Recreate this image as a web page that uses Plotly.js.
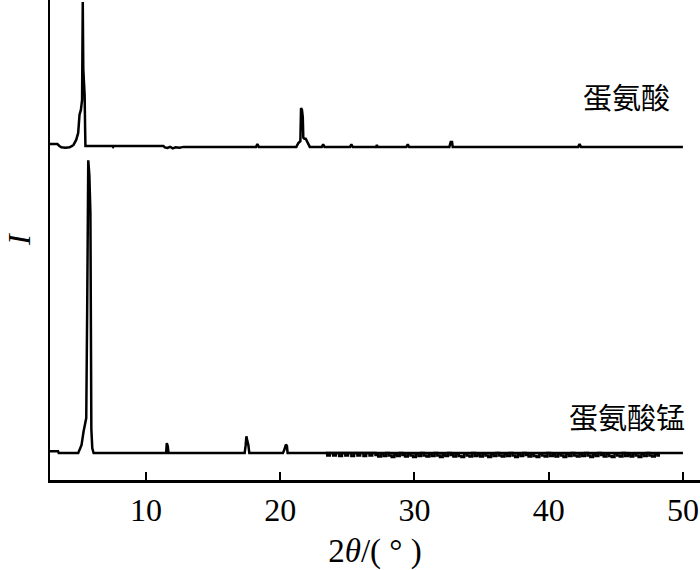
<!DOCTYPE html>
<html>
<head>
<meta charset="utf-8">
<script src="https://cdn.plot.ly/plotly-3.0.1.min.js"></script>
<style>
  html, body { margin: 0; padding: 0; background: #fff; }
  #graph { width: 700px; height: 570px; }
</style>
</head>
<body>
<div id="graph"></div>
<script>
// XRD patterns: methionine (top, offset) and manganese methionine (bottom)
var labelMet = '蛋氨酸';
var labelMn = '蛋氨酸锰';
var labelX = '2<i>θ</i>/( ° )';
var labelY = '<i>I</i>';

// vertical offsets of the two patterns (a.u.)
var offsetMet = 69.6;
var offsetMn = 5.6;

// methionine
var thetaMet = [2.85, 3.4, 3.55, 3.7, 4.0, 4.3, 4.5, 4.6, 4.8, 4.95, 5.05, 5.15, 5.24, 5.29, 5.33, 5.38, 5.43, 5.47, 5.49,
  7.5, 7.55, 7.6, 11.3, 11.4, 11.6, 11.8, 12.0, 12.2, 12.5, 12.8, 13.0,
  18.2, 18.3, 18.4, 21.2, 21.35, 21.5, 21.55, 21.62, 21.68, 21.72, 21.8, 21.9, 22.0, 22.1, 22.2,
  23.1, 23.2, 23.3, 25.2, 25.3, 25.4, 27.15, 27.2, 27.25, 29.4, 29.5, 29.6,
  32.6, 32.7, 32.8, 32.85, 42.2, 42.3, 42.4, 50];
var intMet = [0.4, 0.4, 0, -0.3, -0.4, -0.3, 0, 0.2, 1.25, 2.7, 6.5, 7.5, 9.6, 30.0, 16.0, 13.5, 10.6, 3, 0,
  0, -0.2, 0, 0, -0.3, -0.4, -0.2, -0.5, -0.3, -0.4, -0.2, -0.2,
  -0.2, 0.4, -0.2, -0.2, 0.6, 1.0, 7.9, 7.5, 6.0, 1.7, 1.5, 1.5, 0.8, 0.2, -0.2,
  -0.2, 0.3, -0.2, -0.2, 0.3, -0.2, -0.2, 0.2, -0.2, -0.2, 0.3, -0.2,
  -0.2, 0.8, 0.8, -0.2, -0.2, 0.4, -0.2, -0.2];

// manganese methionine (peaks)
var thetaMn = [2.85, 3.45, 3.5, 4.95, 5.1, 5.2, 5.35, 5.45, 5.55, 5.62, 5.7, 5.78, 5.86, 5.93, 6.0, 6.1,
  11.5, 11.55, 11.62, 11.68, 17.35, 17.42, 17.48, 17.55, 17.62, 17.7,
  20.2, 20.32, 20.42, 20.5, 20.55, 23.4, 48.2, 50];
var intMn = [0.4, 0.4, 0, 0, 1.0, 1.7, 4.5, 6.0, 7.3, 30, 61, 58, 50, 5, 1.0, 0,
  0, 2.1, 1.5, 0, 0, 1.5, 3.5, 2.5, 1.8, 0,
  0, 0.8, 1.8, 1.5, 0, 0, 0, 0];

// manganese methionine (noisy stretch, drawn as steps)
var thetaMnNoise = [23.4, 23.5, 23.7, 23.95, 24.15, 24.4, 24.6, 24.85, 25.05, 25.3, 25.5, 25.75, 25.95, 26.2, 26.4, 26.65, 26.85,
  27.1, 27.3, 27.5, 27.7, 27.9, 28.1, 28.3, 28.5, 28.7, 28.9, 29.1, 29.3, 29.5, 29.7, 29.9,
  30.1, 30.3, 30.5, 30.7, 30.9, 31.1, 31.3, 31.5, 31.7, 31.9, 32.1, 32.3, 32.5, 32.7, 32.9,
  33.1, 33.3, 33.5, 33.7, 33.9, 34.1, 34.3, 34.5, 34.7, 34.9, 35.1, 35.3, 35.5, 35.7, 35.9,
  36.1, 36.3, 36.5, 36.7, 36.9, 37.1, 37.3, 37.5, 37.7, 37.9, 38.1, 38.3, 38.5, 38.7, 38.9,
  39.1, 39.3, 39.5, 39.7, 39.9, 40.1, 40.3, 40.5, 40.7, 40.9, 41.1, 41.3, 41.5, 41.7, 41.9,
  42.1, 42.3, 42.5, 42.7, 42.9, 43.1, 43.3, 43.5, 43.7, 43.9, 44.1, 44.3, 44.5, 44.7, 44.9,
  45.1, 45.3, 45.5, 45.7, 45.9, 46.1, 46.3, 46.5, 46.7, 46.9, 47.1, 47.3, 47.5, 47.7, 47.9,
  48.1, 48.2];
var intMnNoise = [0, -0.5, 0, -0.5, 0, -0.6, 0, -0.5, 0, -0.6, 0, -0.5, 0, -0.6, 0, -0.5, 0,
  -0.4, -0.7, -0.2, -0.6, 0, -0.5, -0.8, -0.3, -0.6, 0, -0.4, -0.7, -0.1, -0.5, -0.8,
  -0.2, -0.6, 0, -0.5, -0.7, -0.2, -0.6, 0, -0.5, -0.8, -0.3, -0.6, 0, -0.4, -0.7,
  -0.2, -0.6, -0.8, -0.1, -0.5, -0.7, 0, -0.6, -0.3, -0.7, -0.1, -0.5, -0.8, -0.2, -0.6,
  0, -0.5, -0.7, -0.2, -0.6, 0, -0.5, -0.8, -0.3, -0.6, 0, -0.4, -0.7, -0.2, -0.6,
  -0.8, -0.1, -0.5, -0.7, 0, -0.6, -0.3, -0.7, -0.1, -0.5, -0.8, -0.2, -0.6, 0, -0.5,
  -0.7, -0.2, -0.6, 0, -0.5, -0.8, -0.3, -0.6, 0, -0.4, -0.7, -0.2, -0.6, -0.8, -0.1,
  -0.5, -0.7, 0, -0.6, -0.3, -0.7, -0.1, -0.5, -0.8, -0.2, -0.6, 0, -0.5, -0.7, -0.2,
  -0.5, 0];

var xTicks = [10, 20, 30, 40, 50];

var serif = '"Times New Roman", "Liberation Serif", serif';
var cjk = '"Noto Sans CJK SC", sans-serif';

function shift(arr, off) {
  return arr.map(function (v) { return v + off; });
}

var data = [
  {
    x: thetaMet, y: shift(intMet, offsetMet),
    type: 'scatter', mode: 'lines',
    line: { color: '#000', width: 2.5 },
    name: labelMet
  },
  {
    x: thetaMn, y: shift(intMn, offsetMn),
    type: 'scatter', mode: 'lines',
    line: { color: '#000', width: 2.5 },
    name: labelMn
  },
  {
    x: thetaMnNoise, y: shift(intMnNoise, offsetMn),
    type: 'scatter', mode: 'lines',
    line: { color: '#000', width: 2.5, shape: 'hv' },
    name: labelMn
  }
];

var layout = {
  width: 700,
  height: 570,
  margin: { l: 50, r: 0, t: 0, b: 90 },
  paper_bgcolor: '#fff',
  plot_bgcolor: '#fff',
  showlegend: false,
  font: { family: serif, color: '#000', size: 32 },
  xaxis: {
    range: [2.85, 51.27],
    tickvals: xTicks,
    ticktext: xTicks.map(String),
    ticks: 'inside',
    ticklen: 8,
    tickwidth: 2,
    tickcolor: '#000',
    ticklabeloverflow: 'allow',
    showline: true,
    linecolor: '#000',
    linewidth: 2.5,
    showgrid: false,
    zeroline: false,
    tickfont: { family: serif, size: 32 },
    title: { text: labelX, font: { family: serif, size: 33 }, standoff: 14 }
  },
  yaxis: {
    range: [0, 100],
    showticklabels: false,
    ticks: '',
    showline: true,
    linecolor: '#000',
    linewidth: 2.5,
    showgrid: false,
    zeroline: false
  },
  annotations: [
    { x: 0, y: 0.5, xref: 'paper', yref: 'paper', xshift: -31, text: labelY, textangle: -90,
      showarrow: false, xanchor: 'center', yanchor: 'middle',
      font: { family: serif, size: 32, color: '#000' } },
    { x: 49.18, y: 80, xref: 'x', yref: 'y', text: labelMet, showarrow: false,
      xanchor: 'right', yanchor: 'middle', font: { family: cjk, size: 29, color: '#000' } },
    { x: 50.3, y: 13.3, xref: 'x', yref: 'y', text: labelMn, showarrow: false,
      xanchor: 'right', yanchor: 'middle', font: { family: cjk, size: 29, color: '#000' } }
  ]
};

Plotly.newPlot('graph', data, layout, { staticPlot: true, displayModeBar: false });
</script>
</body>
</html>
